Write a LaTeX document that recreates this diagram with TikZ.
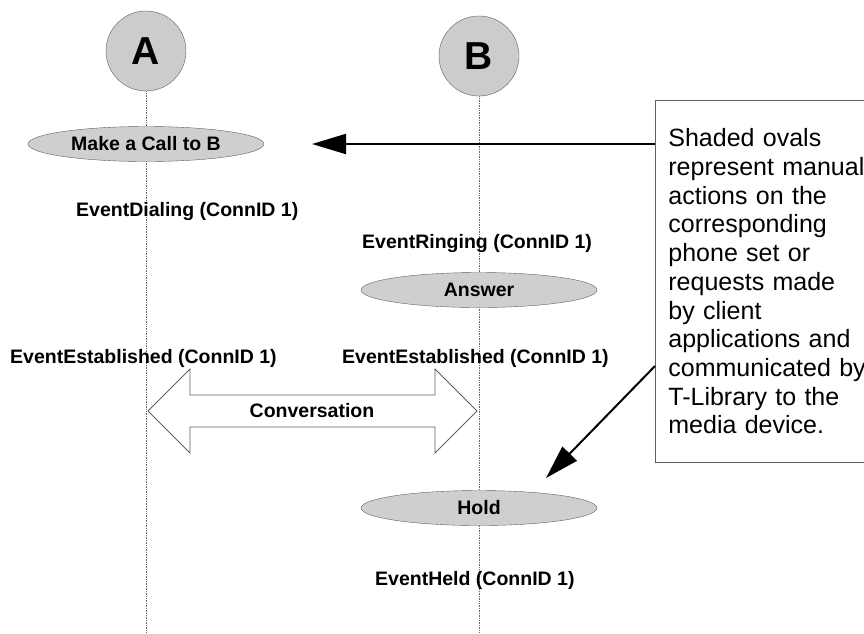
\documentclass[tikz,border=0pt]{standalone}
\usepackage{fontspec}
\setmainfont{Liberation Sans}
\usetikzlibrary{arrows.meta,shapes.geometric}

\begin{document}
\begin{tikzpicture}[
    x=1pt, y=-1pt,
    party/.style={circle, draw=gray!75!black, fill=gray!40, minimum size=80pt, inner sep=0pt, font=\fontsize{39}{39}\selectfont\bfseries},
    lifeline/.style={densely dotted, gray!80!black, line width=0.7pt},
    action/.style={ellipse, draw=gray!75!black, fill=gray!38, minimum width=236pt, minimum height=35pt, inner sep=0pt, font=\fontsize{19.5}{20}\selectfont\bfseries},
    event/.style={anchor=west, inner sep=0pt, font=\fontsize{19.5}{20}\selectfont\bfseries},
    note/.style={rectangle, draw=gray!75!black, line width=0.8pt, anchor=north west, align=left, text width=205pt, inner xsep=13pt, minimum height=362pt, font=\fontsize{25}{28.7}\selectfont},
    pointer/.style={-{Triangle[length=34pt, width=20pt]}, line width=2pt},
    talk/.style={draw=gray!75!black, fill=white, line width=0.8pt}
]
\useasboundingbox (0,0) rectangle (864,633);

% Parties and lifelines
\node[party] (A) at (146,51) {A};
\node[party] (B) at (479,56) {B};
\coordinate (Aend) at (146,633);
\coordinate (Bend) at (479,633);
\draw[lifeline] (A) -- (Aend);
\draw[lifeline] (B) -- (Bend);

% Actions (shaded ovals)
\node[action] (call) at (146,144) {Make a Call to B};
\node[action] (answer) at (479,290) {Answer};
\node[action] (hold) at (479,508) {Hold};

% Events
\node[event] (dialing) at (76,211) {EventDialing (ConnID 1)};
\node[event] (ringing) at (362,243) {EventRinging (ConnID 1)};
\node[event] (estA) at (10,358) {EventEstablished (ConnID 1)};
\node[event] (estB) at (342,358) {EventEstablished (ConnID 1)};
\node[event] (held) at (375,580) {EventHeld (ConnID 1)};

% Conversation
\draw[talk] (148,411) -- (190,369) -- (190,395) -- (435,395) -- (435,369) -- (477,411)
    -- (435,453) -- (435,427) -- (190,427) -- (190,453) -- cycle;
\node[font=\fontsize{19.5}{20}\selectfont\bfseries] (conv) at (312,411) {Conversation};

% Note
\node[note] (note) at (655,100) {
    Shaded ovals\\
    represent manual\\
    actions on the\\
    corresponding\\
    phone set or\\
    requests made\\
    by client\\
    applications and\\
    communicated by\\
    T-Library to the\\
    media device.
};

% Arrows from note
\coordinate (calltip) at (312,144);
\coordinate (holdtip) at (546,478);
\coordinate (holdfrom) at (655,366);
\draw[pointer] (note.west |- calltip) -- (calltip);
\draw[pointer] (holdfrom) -- (holdtip);

\end{tikzpicture}
\end{document}
